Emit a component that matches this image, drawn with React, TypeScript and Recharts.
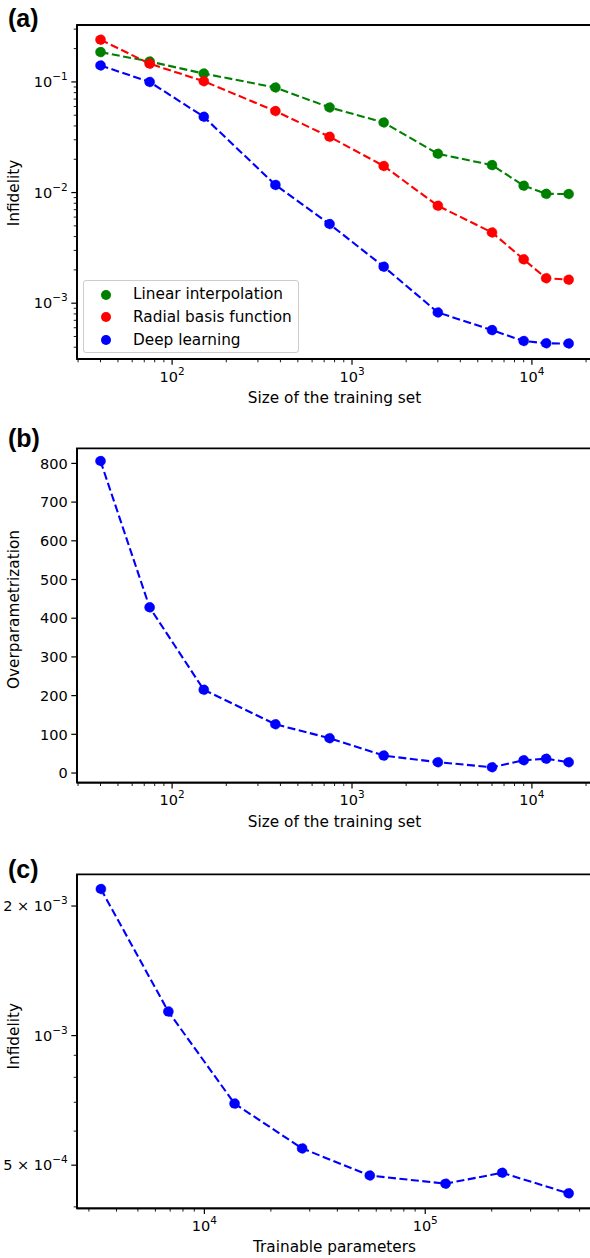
import React from 'react';
import { LineChart, Line, XAxis, YAxis, Legend, ReferenceArea } from 'recharts';

const FONT = '"DejaVu Sans", Verdana, sans-serif';
const GREEN = '#008000';
const RED = '#ff0000';
const BLUE = '#0000ff';

// ---------- Panel (a) / (b) data ----------
const trainingSizes = [40, 75, 150, 375, 750, 1500, 3000, 6000, 9000, 12000, 16000];
const linearInterpolation = [0.186, 0.153, 0.119, 0.089, 0.0588, 0.043, 0.0224, 0.0177, 0.01155, 0.00973, 0.0097];
const radialBasisFunction = [0.241, 0.146, 0.1015, 0.0545, 0.0319, 0.0174, 0.00759, 0.00436, 0.00249, 0.00168, 0.00163];
const deepLearning = [0.141, 0.1, 0.0484, 0.01173, 0.00519, 0.00214, 0.000825, 0.000571, 0.000455, 0.000434, 0.000432];
const overparametrization = [806, 428, 215, 126, 90, 45, 28, 15, 33, 37, 28];

const seriesNames = ['Linear interpolation', 'Radial basis function', 'Deep learning'];

// ---------- Panel (c) data ----------
const trainableParameters = [3400, 6870, 13700, 27700, 56100, 123600, 223000, 446000];
const infidelityVsParams = [0.00219, 0.001137, 0.000695, 0.000547, 0.000473, 0.000453, 0.00048, 0.00043];

// ---------- Axes ----------
const xDomainAB = [29.6, 21580];
const xTicksAB = [30, 40, 50, 60, 70, 80, 90, 100, 200, 300, 400, 500, 600, 700, 800, 900, 1000, 2000, 3000, 4000, 5000, 6000, 7000, 8000, 9000, 10000, 20000];
const xTickLabelsAB = [
  { value: 100, pre: '', sup: '2' },
  { value: 1000, pre: '', sup: '3' },
  { value: 10000, pre: '', sup: '4' },
];

const yDomainA = [0.000313, 0.327];
const yTicksA = [0.0004, 0.0005, 0.0006, 0.0007, 0.0008, 0.0009, 0.001, 0.002, 0.003, 0.004, 0.005, 0.006, 0.007, 0.008, 0.009, 0.01, 0.02, 0.03, 0.04, 0.05, 0.06, 0.07, 0.08, 0.09, 0.1, 0.2, 0.3];
const yTickLabelsA = [
  { value: 0.001, pre: '', sup: '\u22123' },
  { value: 0.01, pre: '', sup: '\u22122' },
  { value: 0.1, pre: '', sup: '\u22121' },
];

const yDomainB = [-25, 839];
const yTicksB = [0, 100, 200, 300, 400, 500, 600, 700, 800];

const xDomainC = [2650, 569000];
const xTicksC = [3000, 4000, 5000, 6000, 7000, 8000, 9000, 10000, 20000, 30000, 40000, 50000, 60000, 70000, 80000, 90000, 100000, 200000, 300000, 400000, 500000];
const xTickLabelsC = [
  { value: 10000, pre: '', sup: '4' },
  { value: 100000, pre: '', sup: '5' },
];
const yDomainC = [0.000397, 0.00237];
const yTicksC = [0.0004, 0.0005, 0.0006, 0.0007, 0.0008, 0.0009, 0.001, 0.002];
const yTickLabelsC = [
  { value: 0.0005, pre: '5 \u00d7 ', sup: '\u22124' },
  { value: 0.001, pre: '', sup: '\u22123' },
  { value: 0.002, pre: '2 \u00d7 ', sup: '\u22123' },
];

const tableAB = trainingSizes.map((n, i) => ({
  n,
  linear: linearInterpolation[i],
  rbf: radialBasisFunction[i],
  deep: deepLearning[i],
  over: overparametrization[i],
}));
const tableC = trainableParameters.map((p, i) => ({ p, inf: infidelityVsParams[i] }));

type TL = { value: number; pre: string; sup: string };
const same = (a: number, b: number) => Math.abs(a - b) <= Math.abs(b) * 1e-9;

const TICK_FS = 14.5;
const SUP_FS = 10.5;
const MAJOR = 5.7;
const MINOR = 3.3;

const makeLogXTick = (labels: TL[]) => (props: any) => {
  const { x, y, payload } = props;
  const lab = labels.find((l) => same(l.value, payload.value));
  const len = lab ? MAJOR : MINOR;
  return (
    <g>
      <line x1={x} x2={x} y1={y} y2={y + len} stroke="#000" strokeWidth={lab ? 1.2 : 0.9} />
      {lab && (
        <text x={x} y={y + 22.5} textAnchor="middle" fontSize={TICK_FS} fontFamily={FONT} fill="#000">
          {lab.pre}10
          <tspan dy={-7} fontSize={SUP_FS}>{lab.sup}</tspan>
        </text>
      )}
    </g>
  );
};

const makeLogYTick = (labels: TL[], majors: number[]) => (props: any) => {
  const { x, y, payload } = props;
  const lab = labels.find((l) => same(l.value, payload.value));
  const major = majors.some((m) => same(m, payload.value)) || !!lab;
  const len = major ? MAJOR : MINOR;
  return (
    <g>
      <line x1={x - len} x2={x} y1={y} y2={y} stroke="#000" strokeWidth={major ? 1.2 : 0.9} />
      {lab && (
        <text x={x - MAJOR - 3.5} y={y + 5.2} textAnchor="end" fontSize={TICK_FS} fontFamily={FONT} fill="#000">
          {lab.pre}10
          <tspan dy={-7} fontSize={SUP_FS}>{lab.sup}</tspan>
        </text>
      )}
    </g>
  );
};

const linYTick = (props: any) => {
  const { x, y, payload } = props;
  return (
    <g>
      <line x1={x - MAJOR} x2={x} y1={y} y2={y} stroke="#000" strokeWidth={1.2} />
      <text x={x - MAJOR - 3.5} y={y + 5.2} textAnchor="end" fontSize={TICK_FS} fontFamily={FONT} fill="#000">
        {payload.value}
      </text>
    </g>
  );
};

const xTitle = (text: string) => (props: any) => {
  const vb = props.viewBox || {};
  return (
    <text x={vb.x + vb.width / 2} y={vb.y + 44} textAnchor="middle" fontSize={15.3} fontFamily={FONT} fill="#000">
      {text}
    </text>
  );
};

const yTitle = (text: string, shift: number) => (props: any) => {
  const vb = props.viewBox || {};
  const cx = 19;
  const cy = vb.y + vb.height / 2 + shift;
  return (
    <text x={cx} y={cy} transform={`rotate(-90 ${cx} ${cy})`} textAnchor="middle" fontSize={15.3} fontFamily={FONT} fill="#000">
      {text}
    </text>
  );
};

const renderLegend = (props: any) => {
  const payload: any[] = (props.payload || []).slice();
  payload.sort((a, b) => seriesNames.indexOf(a.value) - seriesNames.indexOf(b.value));
  return (
    <div
      style={{
        width: 216,
        height: 72.7,
        boxSizing: 'border-box',
        border: '1px solid #cccccc',
        borderRadius: 3,
        background: 'rgba(255,255,255,0.8)',
        paddingTop: 2.2,
        fontFamily: FONT,
        fontSize: 15.3,
        color: '#000',
      }}
    >
      {payload.map((it) => (
        <div key={it.value} style={{ position: 'relative', height: 22.7 }}>
          <span
            style={{
              position: 'absolute',
              left: 16.6,
              top: (22.7 - 10) / 2,
              width: 10,
              height: 10,
              borderRadius: '50%',
              background: it.color,
            }}
          />
          <span style={{ position: 'absolute', left: 49, top: 0, lineHeight: '22.7px', whiteSpace: 'nowrap' }}>{it.value}</span>
        </div>
      ))}
    </div>
  );
};

const spine = { stroke: '#000', strokeWidth: 1.8 };
const DASH = '8 3.5';
const LW = 2.1;
const dotOf = (c: string) => ({ r: 5, fill: c, stroke: c, strokeWidth: 0.5 });

export default function App() {
  return (
    <div style={{ position: 'absolute', left: 0, top: 0, width: 590, height: 1258, overflow: 'hidden', background: '#fff' }}>
      {/* Panel (a) */}
      <div style={{ position: 'absolute', left: 0, top: 0 }}>
        <LineChart width={600} height={420} data={tableAB} margin={{ top: 25, right: 8, left: 0, bottom: 0 }}>
          <XAxis
            dataKey="n"
            type="number"
            scale="log"
            domain={xDomainAB}
            allowDataOverflow
            ticks={xTicksAB}
            interval={0}
            tickSize={0}
            tickMargin={0}
            tickLine={false}
            axisLine={spine}
            tick={makeLogXTick(xTickLabelsAB)}
            height={61}
            label={{ content: xTitle('Size of the training set') }}
          />
          <YAxis
            type="number"
            scale="log"
            domain={yDomainA}
            allowDataOverflow
            ticks={yTicksA}
            interval={0}
            tickSize={0}
            tickMargin={0}
            tickLine={false}
            axisLine={spine}
            tick={makeLogYTick(yTickLabelsA, [])}
            width={77}
            label={{ content: yTitle('Infidelity', 1) }}
          />
          <ReferenceArea x1={xDomainAB[0]} x2={xDomainAB[1]} y1={yDomainA[0]} y2={yDomainA[1]} fill="none" fillOpacity={0} stroke="#000" strokeWidth={1.8} ifOverflow="visible" />
          <Legend
            layout="vertical"
            align="center"
            verticalAlign="middle"
            wrapperStyle={{ left: 83, top: 280, width: 216, height: 73 }}
            content={renderLegend}
          />
          <Line name={seriesNames[0]} dataKey="linear" type="linear" stroke={GREEN} strokeWidth={LW} strokeDasharray={DASH} dot={dotOf(GREEN)} activeDot={false} isAnimationActive={false} />
          <Line name={seriesNames[1]} dataKey="rbf" type="linear" stroke={RED} strokeWidth={LW} strokeDasharray={DASH} dot={dotOf(RED)} activeDot={false} isAnimationActive={false} />
          <Line name={seriesNames[2]} dataKey="deep" type="linear" stroke={BLUE} strokeWidth={LW} strokeDasharray={DASH} dot={dotOf(BLUE)} activeDot={false} isAnimationActive={false} />
        </LineChart>
      </div>

      {/* Panel (b) */}
      <div style={{ position: 'absolute', left: 0, top: 420 }}>
        <LineChart width={600} height={420} data={tableAB} margin={{ top: 28.3, right: 8, left: 0, bottom: 0 }}>
          <XAxis
            dataKey="n"
            type="number"
            scale="log"
            domain={xDomainAB}
            allowDataOverflow
            ticks={xTicksAB}
            interval={0}
            tickSize={0}
            tickMargin={0}
            tickLine={false}
            axisLine={spine}
            tick={makeLogXTick(xTickLabelsAB)}
            height={57.3}
            label={{ content: xTitle('Size of the training set') }}
          />
          <YAxis
            type="number"
            domain={yDomainB}
            allowDataOverflow
            ticks={yTicksB}
            interval={0}
            tickSize={0}
            tickMargin={0}
            tickLine={false}
            axisLine={spine}
            tick={linYTick}
            width={77}
            label={{ content: yTitle('Overparametrization', -6) }}
          />
          <ReferenceArea x1={xDomainAB[0]} x2={xDomainAB[1]} y1={yDomainB[0]} y2={yDomainB[1]} fill="none" fillOpacity={0} stroke="#000" strokeWidth={1.8} ifOverflow="visible" />
          <Line name={seriesNames[2]} dataKey="over" type="linear" stroke={BLUE} strokeWidth={LW} strokeDasharray={DASH} dot={dotOf(BLUE)} activeDot={false} isAnimationActive={false} />
        </LineChart>
      </div>

      {/* Panel (c) */}
      <div style={{ position: 'absolute', left: 0, top: 840 }}>
        <LineChart width={600} height={418} data={tableC} margin={{ top: 34.3, right: 8, left: 0, bottom: 0 }}>
          <XAxis
            dataKey="p"
            type="number"
            scale="log"
            domain={xDomainC}
            allowDataOverflow
            ticks={xTicksC}
            interval={0}
            tickSize={0}
            tickMargin={0}
            tickLine={false}
            axisLine={spine}
            tick={makeLogXTick(xTickLabelsC)}
            height={49.7}
            label={{ content: xTitle('Trainable parameters') }}
          />
          <YAxis
            type="number"
            scale="log"
            domain={yDomainC}
            allowDataOverflow
            ticks={yTicksC}
            interval={0}
            tickSize={0}
            tickMargin={0}
            tickLine={false}
            axisLine={spine}
            tick={makeLogYTick(yTickLabelsC, [0.001])}
            width={77}
            label={{ content: yTitle('Infidelity', -5) }}
          />
          <ReferenceArea x1={xDomainC[0]} x2={xDomainC[1]} y1={yDomainC[0]} y2={yDomainC[1]} fill="none" fillOpacity={0} stroke="#000" strokeWidth={1.8} ifOverflow="visible" />
          <Line name={seriesNames[2]} dataKey="inf" type="linear" stroke={BLUE} strokeWidth={LW} strokeDasharray={DASH} dot={dotOf(BLUE)} activeDot={false} isAnimationActive={false} />
        </LineChart>
      </div>

      {/* Panel letters */}
      <svg width={590} height={1258} style={{ position: 'absolute', left: 0, top: 0, pointerEvents: 'none' }}>
        <text x={8} y={26.7} fontSize={25} fontWeight="bold" fontFamily='"Liberation Sans", Arial, sans-serif' fill="#000">(a)</text>
        <text x={8} y={446.5} fontSize={25} fontWeight="bold" fontFamily='"Liberation Sans", Arial, sans-serif' fill="#000">(b)</text>
        <text x={8} y={878} fontSize={25} fontWeight="bold" fontFamily='"Liberation Sans", Arial, sans-serif' fill="#000">(c)</text>
      </svg>
    </div>
  );
}
